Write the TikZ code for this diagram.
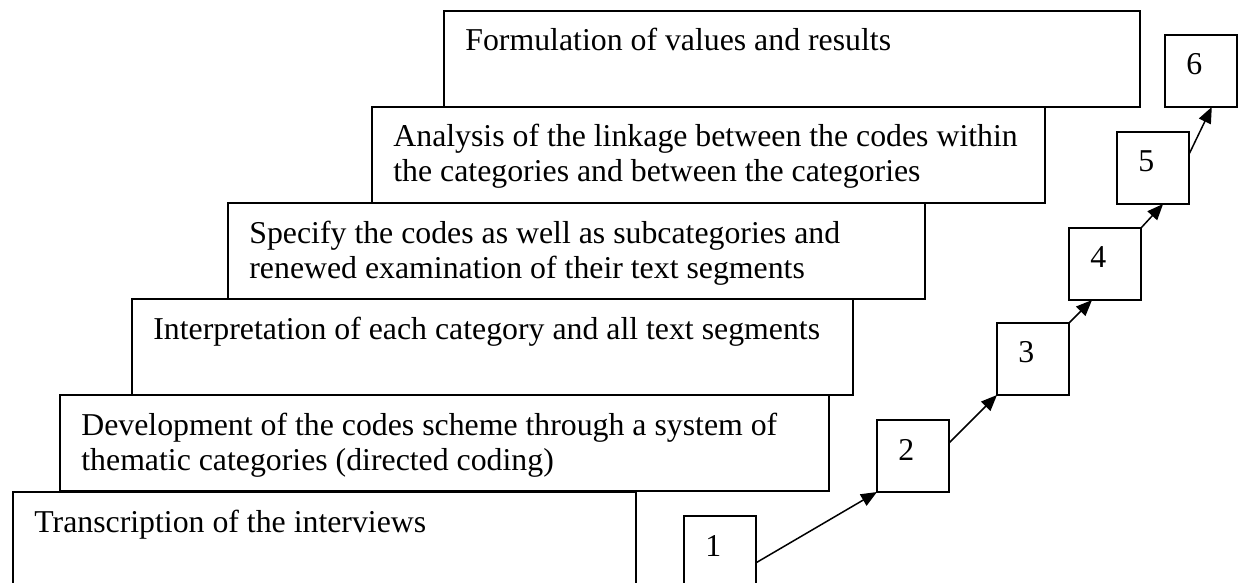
\documentclass[tikz,border=0pt]{standalone}
\usepackage{fontspec}
\setmainfont{Liberation Serif}
\usetikzlibrary{arrows.meta,calc}
% two lines of text whose baseline is that of the first line
\newcommand\steplines[2]{\vtop{\hbox{#1}\hbox{#2}}}
\begin{document}
\begin{tikzpicture}[x=0.5pt,y=-0.5pt,
  stepbox/.style={draw, line width=0.8pt, rectangle, inner sep=0pt, outer sep=0pt,
    anchor=north west, minimum height=48pt},
  numbox/.style={draw, line width=0.8pt, rectangle, inner sep=0pt, outer sep=0pt,
    anchor=north west, minimum width=36pt, minimum height=36pt},
  steptext/.style={anchor=base west, inner sep=0pt,
    font=\fontsize{15.9pt}{17.5pt}\selectfont},
  flow/.style={-{Triangle[length=8pt,width=6.5pt]}, line width=0.75pt}]
\useasboundingbox (0,0) rectangle (1239,583);
\clip (0,0) rectangle (1239,583);

% staircase of steps
\node[stepbox, minimum width=311.5pt] (s1) at (13,492) {};
\node[stepbox, minimum width=384.5pt] (s2) at (60,395) {};
\node[stepbox, minimum width=360.5pt] (s3) at (132,299) {};
\node[stepbox, minimum width=348.5pt] (s4) at (228,203) {};
\node[stepbox, minimum width=336.5pt] (s5) at (372,107) {};
\node[stepbox, minimum width=348pt]   (s6) at (444,11) {};

\node[steptext] (t1) at ($(s1.north west)+(21,40)$) {Transcription of the interviews};
\node[steptext] (t2) at ($(s2.north west)+(21,40)$)
  {\steplines{Development of the codes scheme through a system of}{thematic categories (directed coding)}};
\node[steptext] (t3) at ($(s3.north west)+(21,40)$) {Interpretation of each category and all text segments};
\node[steptext] (t4) at ($(s4.north west)+(21,40)$)
  {\steplines{Specify the codes as well as subcategories and}{renewed examination of their text segments}};
\node[steptext] (t5) at ($(s5.north west)+(21,40)$)
  {\steplines{Analysis of the linkage between the codes within}{the categories and between the categories}};
\node[steptext] (t6) at ($(s6.north west)+(21,40)$) {Formulation of values and results};

% numbered steps
\node[numbox] (n1) at (684,516) {};
\node[numbox] (n2) at (877,420) {};
\node[numbox] (n3) at (997,323) {};
\node[numbox] (n4) at (1069,228) {};
\node[numbox] (n5) at (1117,132) {};
\node[numbox] (n6) at (1165,35) {};

\foreach \k in {1,...,6}
  \node[steptext] (l\k) at ($(n\k.north west)+(21,40)$) {\k};

% arrows between numbered steps
\draw[flow] ($(n1.south east)!0.35!(n1.north east)$) -- (n2.south west);
\draw[flow] ($(n2.north east)!0.32!(n2.south east)$) -- (n3.south west);
\draw[flow] (n3.north east) -- ($(n4.south west)!0.32!(n4.south east)$);
\draw[flow] (n4.north east) -- ($(n5.south west)!0.64!(n5.south east)$);
\draw[flow] ($(n5.north east)!0.31!(n5.south east)$) -- ($(n6.south west)!0.65!(n6.south east)$);
\end{tikzpicture}
\end{document}
